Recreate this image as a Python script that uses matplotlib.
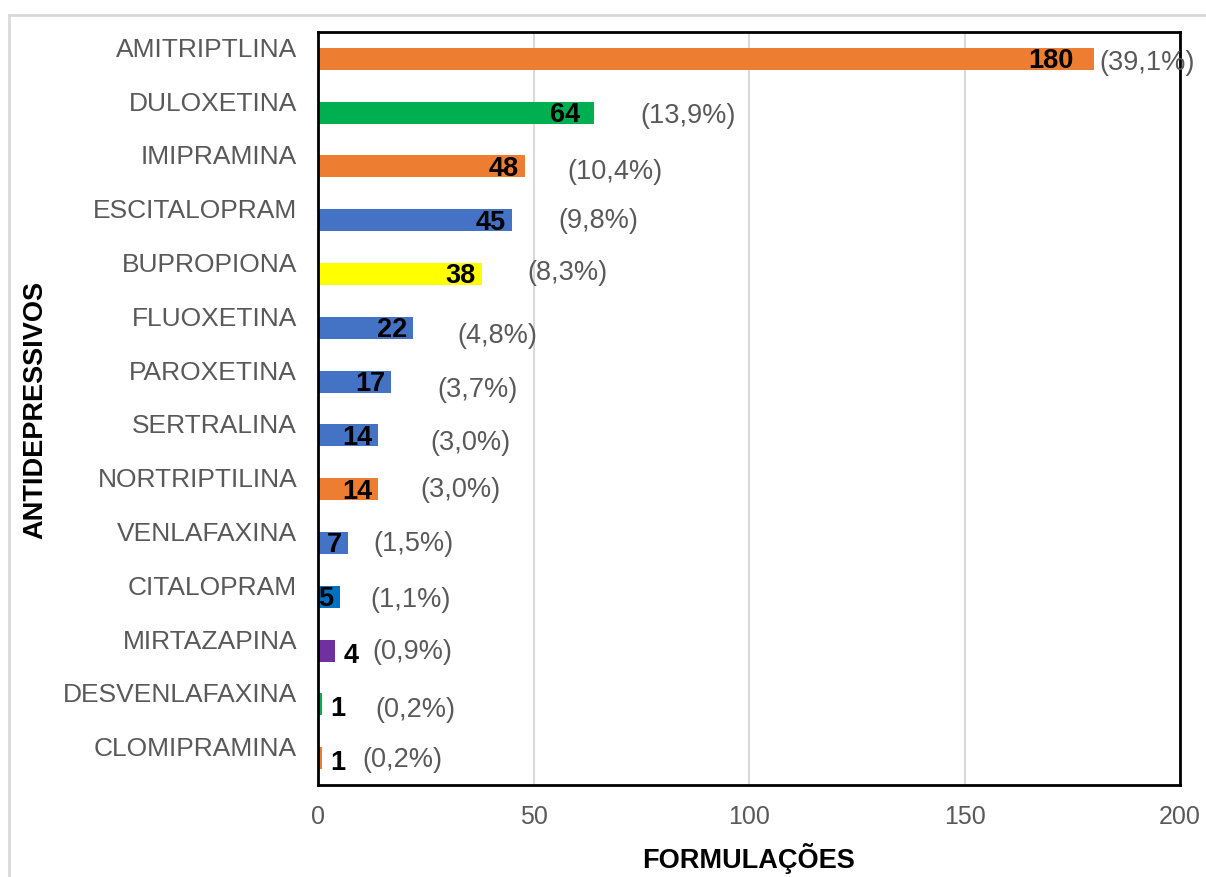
import numpy as np
import matplotlib.pyplot as plt
import matplotlib.transforms as mtransforms
from matplotlib.lines import Line2D

plt.rcParams['font.family'] = ['Liberation Sans', 'DejaVu Sans']

farmacos = ['AMITRIPTLINA', 'DULOXETINA', 'IMIPRAMINA', 'ESCITALOPRAM', 'BUPROPIONA',
            'FLUOXETINA', 'PAROXETINA', 'SERTRALINA', 'NORTRIPTILINA', 'VENLAFAXINA',
            'CITALOPRAM', 'MIRTAZAPINA', 'DESVENLAFAXINA', 'CLOMIPRAMINA']
formulacoes = [180, 64, 48, 45, 38, 22, 17, 14, 14, 7, 5, 4, 1, 1]
cores = ['#ED7D31', '#00B050', '#ED7D31', '#4472C4', '#FFFF00', '#4472C4', '#4472C4',
         '#4472C4', '#ED7D31', '#4472C4', '#0070C0', '#7030A0', '#00B050', '#ED7D31']

# posicao (x, em dados) e ajuste vertical (px) dos rotulos de porcentagem
pct_x = [181.4, 74.7, 57.8, 55.7, 48.5, 32.3, 27.6, 26.0, 23.7, 12.8, 12.1, 12.5, 13.2, 10.2]
pct_dy = [3, 2, 5, 0, -2, 7, 7, 7, 0, 0, 2, 0, 5, 1]

total = sum(formulacoes)
cinza = '#595959'

fig = plt.figure(figsize=(12.06, 8.78), dpi=100)
ax = fig.add_axes([318/1206, 1-786/878, (1180-318)/1206, (786-33)/878])

y = np.arange(len(farmacos))
ax.barh(y, formulacoes, height=0.41, color=cores, zorder=3)

ax.set_xlim(0, 200)
ax.set_ylim(len(farmacos)-0.5, -0.5)
ax.set_xticks([0, 50, 100, 150, 200])
ax.xaxis.grid(True, color='#D9D9D9', linewidth=1.5, zorder=0)
ax.tick_params(axis='both', length=0, colors=cinza)
ax.tick_params(axis='x', labelsize=18, pad=14)
ax.tick_params(axis='y', labelsize=19, pad=15)
ax.set_yticks(y, farmacos)
desloc = mtransforms.ScaledTranslation(0, 12.5/100, fig.dpi_scale_trans)
for t in ax.get_yticklabels():
    t.set_transform(t.get_transform() + desloc)

for s in ax.spines.values():
    s.set_linewidth(2)
    s.set_color('black')
    s.set_zorder(5)

for i, v in enumerate(formulacoes):
    if v >= 5:
        gap = -20 if v > 100 else (-14 if v > 60 else -6)
        ax.annotate(str(v), (v, i), xytext=(gap*0.72, -1), textcoords='offset points',
                    ha='right', va='center', fontsize=19.5, fontweight='bold', color='black', zorder=6)
    else:
        ax.annotate(str(v), (v, i), xytext=(6, -3), textcoords='offset points',
                    ha='left', va='center', fontsize=19.5, fontweight='bold', color='black', zorder=6)
    pct = f'({v/total*100:.1f}%)'.replace('.', ',')
    ax.annotate(pct, (pct_x[i], i), xytext=(0, -pct_dy[i]*0.72), textcoords='offset points',
                ha='left', va='center', fontsize=19.5, color=cinza, zorder=6, annotation_clip=False)

ax.set_xlabel('FORMULAÇÕES', fontsize=19.5, fontweight='bold', color='black', labelpad=10)
fig.text(35/1206, 1-410/878, 'ANTIDEPRESSIVOS', rotation=90, ha='center', va='center',
         fontsize=19.5, fontweight='bold', color='black')

# borda externa do grafico
fig.add_artist(Line2D([9/1206, 9/1206], [0, 1-16/878], color='#D9D9D9', linewidth=2))
fig.add_artist(Line2D([9/1206, 1], [1-16/878, 1-16/878], color='#D9D9D9', linewidth=2))

fig.savefig('out.png', dpi=100)
